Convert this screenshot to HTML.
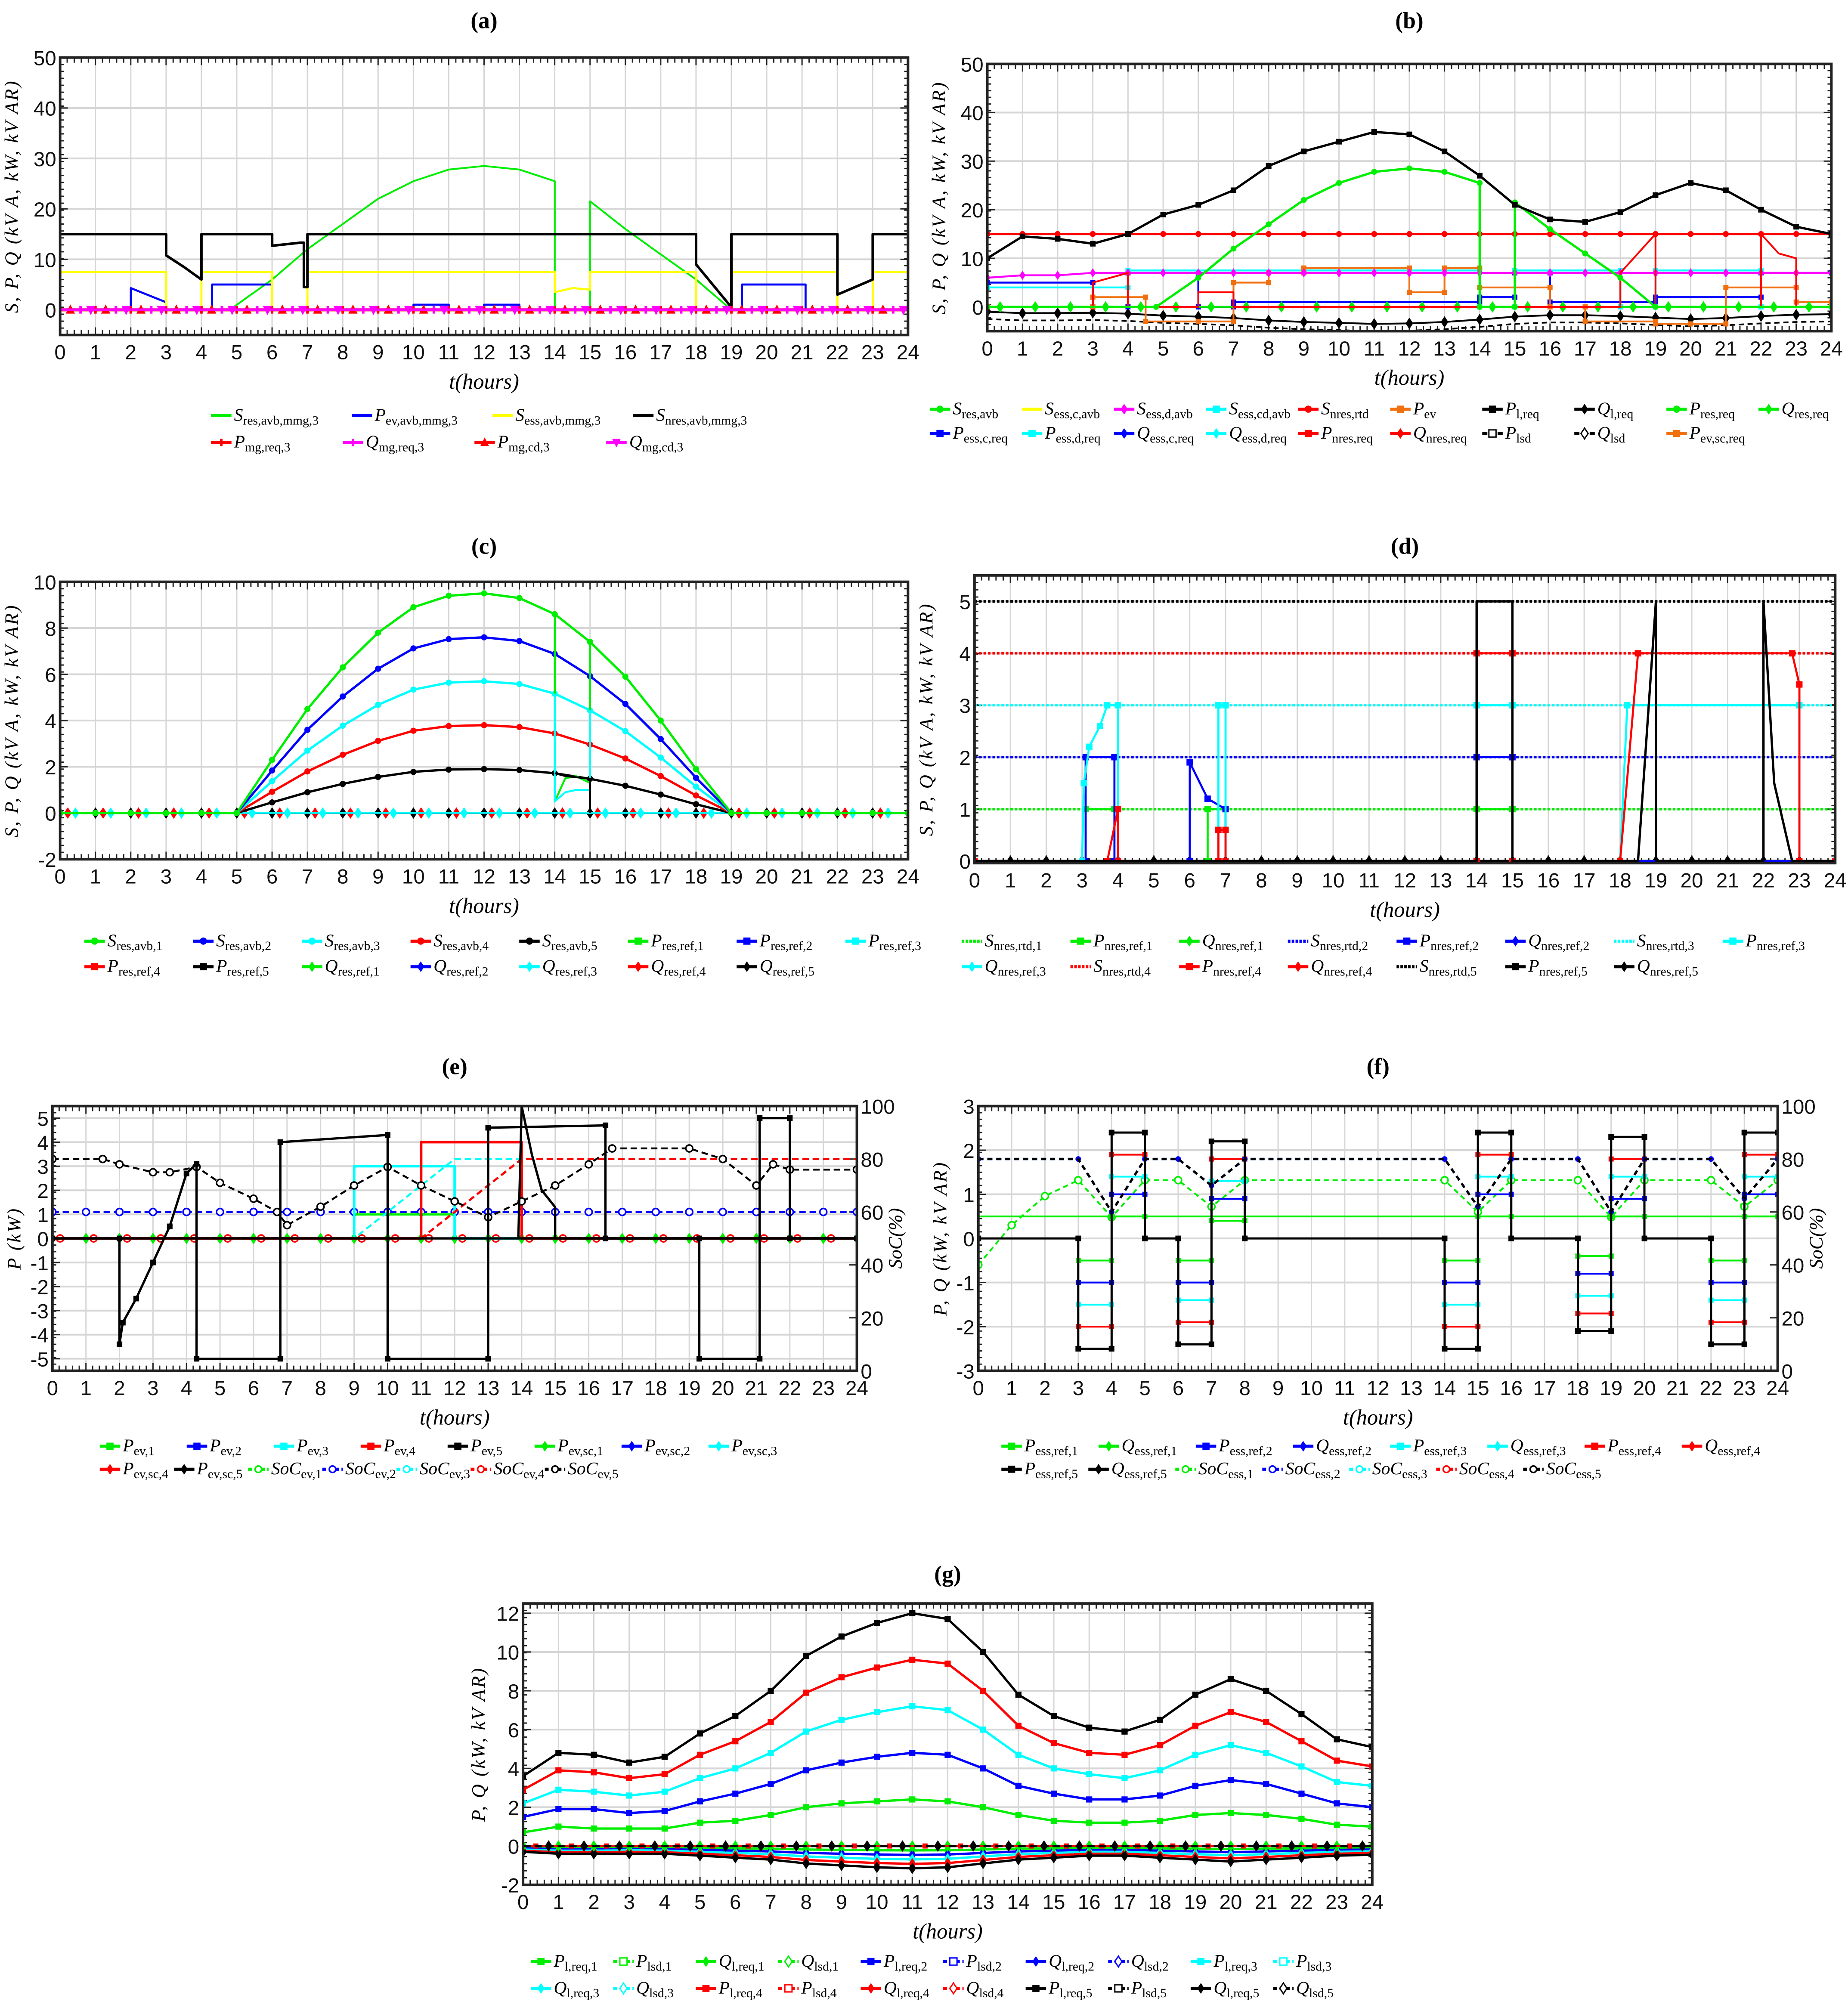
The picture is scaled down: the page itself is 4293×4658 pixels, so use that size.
<!DOCTYPE html>
<html><head><meta charset="utf-8"><style>
html,body{margin:0;padding:0;background:#fff;}
svg{display:block;}
text{font-family:"Liberation Sans",sans-serif;}
.tk{font-size:16px;fill:#111;}
.ser{font-family:"Liberation Serif",serif;}
</style></head><body>
<svg id="fig" xmlns="http://www.w3.org/2000/svg" width="4293" height="4658" viewBox="0 0 1445 1568" preserveAspectRatio="none"></svg>
<script>
// ---------- DATA ----------
const HT=[0,1,2,3,4,5,6,7,8,9,10,11,12,13,14,15,16,17,18,19,20,21,22,23,24];
const ZV=[0,0,0,0,0,0,0,0,0,0,0,0,0,0,0,0,0,0,0,0,0,0,0,0,0];
// (a)
const aBlackT=[0,3,3,3.5,4,4,6,6,6.8,6.9,6.9,7,7,18,18,19,19,22,22,23,23,24];
const aBlackV=[15,15,10.8,8.5,6,15,15,12.7,13.3,13.3,4.5,4.5,15,15,9,0.5,15,15,3,6,15,15];
const aYelT=[0,3,3,4,4,6,6,7,7,14,14,14.5,15,15,18,18,19,19,22,22,23,23,24];
const aYelV=[7.5,7.5,0,0,7.5,7.5,0,0,7.5,7.5,3.5,4.3,4,7.5,7.5,0,0,7.5,7.5,0,0,7.5,7.5];
const aGrnT=[0,4.8,6,7,8,9,10,11,12,13,14,14,15,15,16,17,18,19,24];
const aGrnV=[0,0,6,12,17,22,25.5,27.8,28.5,27.8,25.5,0,0,21.5,16,11,6,0,0];
const aBluT=[0,2,2,3,3,4.3,4.3,6,6,10,10,11,11,12,12,13,13,19.3,19.3,21.1,21.1,24];
const aBluV=[0,0,4.3,1.5,0,0,5,5,0,0,1,1,0,0,1,1,0,0,5,5,0,0];
// (b)
const bLoadV=[10,14.5,14,13,15,19,21,24,29,32,34,36,35.5,32,27,21,18,17.5,19.5,23,25.5,24,20,16.5,15];
const bResT=[0,4.8,6,7,8,9,10,11,12,13,14,14,15,15,16,17,18,19,24];
const bResV=[0,0,6,12,17,22,25.5,27.8,28.5,27.8,25.5,0,0,21.5,16,11,6,0,0];
const bRtdV=[15,15,15,15,15,15,15,15,15,15,15,15,15,15,15,15,15,15,15,15,15,15,15,15,15];
const bMagV=[6,6.5,6.5,7,7,7,7,7,7,7,7,7,7,7,7,7,7,7,7,7,7,7,7,7,7];
const bCyT=[0,4,4,14,14,15,15,18,18,19,19,22,22,24];
const bCyV=[4,4,7.5,7.5,0,0,7.5,7.5,0,0,7.5,7.5,0,0];
const bBluT=[0,3,3,4,4,6,6,7,7,14,14,15,15,16,16,19,19,22,22,24];
const bBluV=[5,5,0,0,7,7,0,0,1,1,2,2,7,7,1,1,2,2,7,7];
const bOrT=[0,3,3,4.5,4.5,6,6,7,7,8,8,9,9,12,12,13,13,14,14,16,16,17,17,19,19,20,20,21,21,23,23,24];
const bOrV=[0,0,2,2,-3,-3,-3,-3,5,5,7,7,8,8,3,3,8,8,4,4,0,0,-3,-3,-3.5,-3.5,-3.5,-3.5,4,4,1,1];
const bRedT=[0,3,3,4,4,6,6,7,7,18,18,19,19,22,22,22.5,23,23,24];
const bRedV=[0,0,5,7,0,0,3,3,0,0,7,15,0,0,15,11,10,0,0];
const bQlV=[-1,-1.3,-1.3,-1.2,-1.4,-1.8,-2,-2.3,-2.8,-3.1,-3.3,-3.5,-3.4,-3.1,-2.6,-2,-1.7,-1.7,-1.9,-2.2,-2.5,-2.3,-1.9,-1.6,-1.5];
const bLsdV=[-2.5,-2.8,-2.8,-2.7,-2.9,-3.3,-3.5,-3.8,-4.3,-4.6,-4.8,-5,-4.9,-4.6,-4.1,-3.5,-3.2,-3.2,-3.4,-3.7,-4,-3.8,-3.4,-3.1,-3];
// (c)
const cV1=[0,0,0,0,0,0,2.3,4.5,6.3,7.8,8.9,9.4,9.5,9.3,8.6,7.4,5.9,4,1.9,0,0,0,0,0,0];
const cV2=[0,0,0,0,0,0,1.84,3.6,5.04,6.24,7.12,7.52,7.6,7.44,6.88,5.92,4.72,3.2,1.52,0,0,0,0,0,0];
const cV3=[0,0,0,0,0,0,1.38,2.7,3.78,4.68,5.34,5.64,5.7,5.58,5.16,4.44,3.54,2.4,1.14,0,0,0,0,0,0];
const cV4=[0,0,0,0,0,0,0.92,1.8,2.52,3.12,3.56,3.76,3.8,3.72,3.44,2.96,2.36,1.6,0.76,0,0,0,0,0,0];
const cV5=[0,0,0,0,0,0,0.46,0.9,1.26,1.56,1.78,1.88,1.9,1.86,1.72,1.48,1.18,0.8,0.38,0,0,0,0,0,0];
const cDropT=[14,14,14.3,14.6,15,15];
const cDropG=[8.6,0.5,1.5,1.6,1.3,7.4];
const cDropC=[5.16,0.5,0.9,1.0,1.0,4.44];
const cDropK=[1.72,1.72,1.6,1.55,1.48,0];
// (d)
const dRtd=[[0,24],[1,1],[2,2],[3,3],[4,4],[5,5]];
const dCyT=[0,3,3.05,3.2,3.5,3.7,4,4,6.8,6.8,7,7,14,14,15,15,18,18.2,23,23,24];
const dCyV=[0,0,1.5,2.2,2.6,3,3,0,0,3,3,0,0,3,3,0,0,3,3,0,0];
const dBkT=[0,14,14,15,15,18.5,19,19,22,22,22.3,22.8,24];
const dBkV=[0,0,5,5,0,0,5,0,0,5,1.5,0,0];
const dRdT=[0,3.7,4,4,6.8,6.8,7,7,14,14,15,15,18,18.5,22.8,23,23,24];
const dRdV=[0,0,1,0,0,0.6,0.6,0,0,4,4,0,0,4,4,3.4,0,0];
const dBlT=[0,3.1,3.1,3.9,3.9,6,6,6.5,7,7,14,14,15,15,24];
const dBlV=[0,0,2,2,0,0,1.9,1.2,1.0,0,0,2,2,0,0];
const dGrT=[0,3.1,3.1,3.9,3.9,6.5,6.5,7,7,14,14,15,15,24];
const dGrV=[0,0,1,1,0,0,1,1,0,0,1,1,0,0];
// (e)
const eBkT=[0,2,2,2.1,2.5,3,3.5,4,4.3,4.3,6.8,6.8,10,10,13,13,16.5,16.5,19.3,19.3,21.1,21.1,22,22,24];
const eBkV=[0,0,-4.4,-3.5,-2.5,-1,0.5,2.7,3.1,-5,-5,4,4.3,-5,-5,4.6,4.7,0,0,-5,-5,5,5,0,0];
const eScT=[13.9,14,14.3,14.6,15,15,24];
const eScV=[0,5.5,3.5,2,1.3,0,0];
const eRdT=[0,11,11,14,14,24];const eRdV=[0,0,4,4,0,0];
const eCyT=[0,9,9,12,12,24];const eCyV=[0,0,3,3,0,0];
const eGrT=[0,9,9,12,12,24];const eGrV=[0,0,1,1,0,0];
const eSoc5T=[0,1.5,2,3,3.5,4.3,5,6,6.7,7,8,9,10,11,12,13,14,15,16,16.7,19,20,21,21.5,22,24];
const eSoc5V=[80,80,78,75,75,77,71,65,60,55,62,70,77,70,64,58,64,70,78,84,84,80,70,78,76,76];
const eSoc2V=[60,60,60,60,60,60,60,60,60,60,60,60,60,60,60,60,60,60,60,60,60,60,60,60,60];
const eSoc1T=[0,9,12,24];const eSoc1V=[50,50,80,80];
const eSoc4T=[0,11,14,24];const eSoc4V=[50,50,80,80];
// (f)
const fT=[0,3,3,4,4,5,5,6,6,7,7,8,8,14,14,15,15,16,16,18,18,19,19,20,20,22,22,23,23,24];
const fV5=[0,0,-2.5,-2.5,2.4,2.4,0,0,-2.4,-2.4,2.2,2.2,0,0,-2.5,-2.5,2.4,2.4,0,0,-2.1,-2.1,2.3,2.3,0,0,-2.4,-2.4,2.4,2.4];
const fV4=[0,0,-2,-2,1.9,1.9,0,0,-1.9,-1.9,1.8,1.8,0,0,-2,-2,1.9,1.9,0,0,-1.7,-1.7,1.8,1.8,0,0,-1.9,-1.9,1.9,1.9];
const fV3=[0,0,-1.5,-1.5,1.4,1.4,0,0,-1.4,-1.4,1.3,1.3,0,0,-1.5,-1.5,1.4,1.4,0,0,-1.3,-1.3,1.4,1.4,0,0,-1.4,-1.4,1.4,1.4];
const fV2=[0,0,-1,-1,1,1,0,0,-1,-1,0.9,0.9,0,0,-1,-1,1,1,0,0,-0.8,-0.8,0.9,0.9,0,0,-1,-1,1,1];
const fV1=[0,0,-0.5,-0.5,0.5,0.5,0,0,-0.5,-0.5,0.4,0.4,0,0,-0.5,-0.5,0.5,0.5,0,0,-0.4,-0.4,0.5,0.5,0,0,-0.5,-0.5,0.5,0.5];
const fSocT=[0,3,4,5,6,7,8,14,15,16,18,19,20,22,23,24];
const fSoc5=[80,80,60,80,80,70,80,80,62,80,80,60,80,80,65,80];
const fSoc1T=[0,1,2,3,4,5,6,7,8,14,15,16,18,19,20,22,23,24];
const fSoc1=[40,55,66,72,58,72,72,62,72,72,60,72,72,58,72,72,62,72];
const fQ1=[0.5,0.5,0.5,0.5,0.5,0.5,0.5,0.5,0.5,0.5,0.5,0.5,0.5,0.5,0.5,0.5,0.5,0.5,0.5,0.5,0.5,0.5,0.5,0.5,0.5];
// (g)
const gP5=[3.6,4.8,4.7,4.3,4.6,5.8,6.7,8,9.8,10.8,11.5,12,11.7,10,7.8,6.7,6.1,5.9,6.5,7.8,8.6,8.0,6.8,5.5,5.1];
const gP4=[2.9,3.9,3.8,3.5,3.7,4.7,5.4,6.4,7.9,8.7,9.2,9.6,9.4,8.0,6.2,5.3,4.8,4.7,5.2,6.2,6.9,6.4,5.4,4.4,4.1];
const gP3=[2.2,2.9,2.8,2.6,2.8,3.5,4.0,4.8,5.9,6.5,6.9,7.2,7.0,6.0,4.7,4.0,3.7,3.5,3.9,4.7,5.2,4.8,4.1,3.3,3.1];
const gP2=[1.5,1.9,1.9,1.7,1.8,2.3,2.7,3.2,3.9,4.3,4.6,4.8,4.7,4.0,3.1,2.7,2.4,2.4,2.6,3.1,3.4,3.2,2.7,2.2,2.0];
const gP1=[0.7,1.0,0.9,0.9,0.9,1.2,1.3,1.6,2.0,2.2,2.3,2.4,2.3,2.0,1.6,1.3,1.2,1.2,1.3,1.6,1.7,1.6,1.4,1.1,1.0];
const gQ5=[-0.3,-0.4,-0.4,-0.4,-0.4,-0.5,-0.6,-0.7,-0.9,-1.0,-1.1,-1.15,-1.1,-0.9,-0.7,-0.6,-0.5,-0.5,-0.6,-0.7,-0.8,-0.7,-0.6,-0.5,-0.45];
const gQ4=[-0.25,-0.32,-0.32,-0.3,-0.32,-0.4,-0.48,-0.56,-0.72,-0.8,-0.88,-0.92,-0.88,-0.72,-0.56,-0.48,-0.4,-0.4,-0.48,-0.56,-0.64,-0.56,-0.48,-0.4,-0.36];
const gQ3=[-0.18,-0.24,-0.24,-0.22,-0.24,-0.3,-0.36,-0.42,-0.54,-0.6,-0.66,-0.69,-0.66,-0.54,-0.42,-0.36,-0.3,-0.3,-0.36,-0.42,-0.48,-0.42,-0.36,-0.3,-0.27];
const gQ2=[-0.12,-0.16,-0.16,-0.15,-0.16,-0.2,-0.24,-0.28,-0.36,-0.4,-0.44,-0.46,-0.44,-0.36,-0.28,-0.24,-0.2,-0.2,-0.24,-0.28,-0.32,-0.28,-0.24,-0.2,-0.18];
const gQ1=[-0.06,-0.08,-0.08,-0.08,-0.08,-0.1,-0.12,-0.14,-0.18,-0.2,-0.22,-0.23,-0.22,-0.18,-0.14,-0.12,-0.1,-0.1,-0.12,-0.14,-0.16,-0.14,-0.12,-0.1,-0.09];
// tick labels
const xTicks=[0,1,2,3,4,5,6,7,8,9,10,11,12,13,14,15,16,17,18,19,20,21,22,23,24];
const aTicks=[0,10,20,30,40,50];
const cTicks=[-2,0,2,4,6,8,10];
const dTicks=[0,1,2,3,4,5];
const eTicks=[-5,-4,-3,-2,-1,0,1,2,3,4,5];
const fTicks=[-3,-2,-1,0,1,2,3];
const gTicks=[-2,0,2,4,6,8,10,12];
const socTicks=[0,20,40,60,80,100];

// ---------- DRAWING ----------
const NS='http://www.w3.org/2000/svg';
const svg=document.getElementById('fig');
function el(tag,attrs,parent){const e=document.createElementNS(NS,tag);for(const k in attrs)e.setAttribute(k,attrs[k]);(parent||svg).appendChild(e);return e;}
const G='#00ee00',B='#0000ff',C='#00ffff',R='#ff0000',K='#000000',Y='#ffff00',M='#ff00ff',O='#f07010';
function sx(p,t){return p.x0+t/24*(p.x1-p.x0);}
function sy(p,v){return p.y1-(v-p.ymin)/(p.ymax-p.ymin)*(p.y1-p.y0);}
function sr(p,v){return p.y1-(v-p.rmin)/(p.rmax-p.rmin)*(p.y1-p.y0);}

function axes(p,name,yt,ylab,rt,rlab,title){
  const g=el('g',{});
  
  
  el('rect',{x:p.x0,y:p.y0,width:p.x1-p.x0,height:p.y1-p.y0,fill:'#fff'},g);
  for(const t of xTicks){const l=el('line',{x1:sx(p,t),x2:sx(p,t),y1:p.y0,y2:p.y1,stroke:'#d6d6d6','stroke-width':1},g);
    }
  for(const v of yt){const l=el('line',{x1:p.x0,x2:p.x1,y1:sy(p,v),y2:sy(p,v),stroke:'#d6d6d6','stroke-width':1.4},g);
    }
  let d='';
  for(let i=0;i<=120;i++){const x=p.x0+i/120*(p.x1-p.x0);const L=(i%5==0)?6:4;d+=`M${x} ${p.y0}v${L}M${x} ${p.y1}v${-L}`;}
  for(const v of yt){d+=`M${p.x0} ${sy(p,v)}h6`; if(!rt) d+=`M${p.x1} ${sy(p,v)}h-6`;}
  const yr=(p.y1-p.y0);
  for(let i=0;i<=40;i++){const y=p.y0+i/40*yr;d+=`M${p.x0} ${y}h3`; if(!rt) d+=`M${p.x1} ${y}h-3`;}
  if(rt){for(const v of rt){d+=`M${p.x1} ${sr(p,v)}h-6`;}}
  el('path',{d:d,stroke:'#222','stroke-width':1,fill:'none'},g);
  for(const t of xTicks){const tx=el('text',{x:sx(p,t),y:p.y1+19,'text-anchor':'middle',class:'tk'},g);tx.textContent=t;
    }
  for(const v of yt){const tx=el('text',{x:p.x0-3,y:sy(p,v)+6,'text-anchor':'end',class:'tk'},g);tx.textContent=v;
    }
  if(rt){for(const v of rt){const tx=el('text',{x:p.x1+3,y:sr(p,v)+6,'text-anchor':'start',class:'tk'},g);tx.textContent=v;
    }
    const cy=(p.y0+p.y1)/2;const rl=el('text',{x:p.x1+35,y:cy,'text-anchor':'middle',class:'ser','font-style':'italic','font-size':15,transform:`rotate(-90 ${p.x1+35} ${cy})`},g);rl.textContent=rlab;
    }
  const cy=(p.y0+p.y1)/2, lx=p.x0-(p.ylx||33);
  const yl=el('text',{x:lx,y:cy,'text-anchor':'middle',class:'ser','font-style':'italic','font-size':15,'letter-spacing':1.2,transform:`rotate(-90 ${lx} ${cy})`},g);yl.textContent=ylab;
  
  const xl=el('text',{x:(p.x0+p.x1)/2,y:p.y1+42,'text-anchor':'middle',class:'ser','font-style':'italic','font-size':17},g);xl.textContent='t(hours)';
  
  const tt=el('text',{x:(p.x0+p.x1)/2,y:p.ty,'text-anchor':'middle',class:'ser','font-weight':'bold','font-size':18},g);tt.textContent=title;
  
  const clip=el('clipPath',{id:'clip'+name});el('rect',{x:p.x0,y:p.y0,width:p.x1-p.x0,height:p.y1-p.y0},clip);
  p.clip='url(#clip'+name+')';
}
function frame(p){const f=el('rect',{x:p.x0,y:p.y0,width:p.x1-p.x0,height:p.y1-p.y0,fill:'none',stroke:'#222','stroke-width':2});
  }
function marker(g,x,y,m,color,s){
  s=s||3;let e;
  if(m==='s') e=el('rect',{x:x-s,y:y-s,width:2*s,height:2*s,fill:color},g);
  else if(m==='o') e=el('circle',{cx:x,cy:y,r:s*0.9,fill:'#fff',stroke:color,'stroke-width':1.2},g);
  else if(m==='of') e=el('circle',{cx:x,cy:y,r:s,fill:color},g);
  else if(m==='d') e=el('path',{d:`M${x} ${y-s*1.5}L${x+s} ${y}L${x} ${y+s*1.5}L${x-s} ${y}Z`,fill:color},g);
  else if(m==='dw') e=el('path',{d:`M${x} ${y-s*1.5}L${x+s} ${y}L${x} ${y+s*1.5}L${x-s} ${y}Z`,fill:'#fff',stroke:color,'stroke-width':1},g);
  else if(m==='+') e=el('path',{d:`M${x-s} ${y}h${2*s}M${x} ${y-s}v${2*s}`,stroke:color,'stroke-width':2},g);
  else if(m==='^') e=el('path',{d:`M${x} ${y-s*1.4}L${x+s*1.2} ${y+s}L${x-s*1.2} ${y+s}Z`,fill:color},g);
  else if(m==='v') e=el('path',{d:`M${x} ${y+s*1.4}L${x+s*1.2} ${y-s}L${x-s*1.2} ${y-s}Z`,fill:color},g);
  else if(m==='sw') e=el('rect',{x:x-s,y:y-s,width:2*s,height:2*s,fill:'#fff',stroke:color,'stroke-width':1},g);

}
function series(p,name,ts,vs,color,o){
  o=o||{};
  const g=el('g',{'clip-path':p.clip});
  
  
  const f=o.right?sr:sy;
  const pts=ts.map((t,i)=>sx(p,t).toFixed(1)+','+f(p,vs[i]).toFixed(1)).join(' ');
  const a={points:pts,fill:'none',stroke:color,'stroke-width':o.w||2,'stroke-linejoin':'round'};
  if(o.dash) a['stroke-dasharray']=o.dash;
  el('polyline',a,g);
  if(o.m){ts.forEach((t,i)=>{if(o.ev&&i%o.ev) return;marker(g,sx(p,t)+(o.off||0),f(p,vs[i]),o.m,color,o.ms);});}
}
function legendItem(x,y,color,dash,m,main,sub,name){
  const g=el('g',{});
  
  
  const a={x1:x,x2:x+16,y1:y-4,y2:y-4,stroke:color,'stroke-width':2.4};
  if(dash) a['stroke-dasharray']=dash;
  el('line',a,g);
  if(m) marker(g,x+8,y-4,m,color,2.8);
  const t=el('text',{x:x+18,y:y,class:'ser','font-style':'italic','font-size':14},t0=g);
  t.textContent=main;
  const s=el('tspan',{dy:3,'font-style':'normal','font-size':10},t);
  s.textContent=sub;
}
function legendRow(x,y,dx,items,pre){
  items.forEach((it,i)=>legendItem(x+i*dx,y,it[0],it[1],it[2],it[3],it[4],pre+'-legend-'+i));
}
const YL='S, P, Q (kV A, kW, kV AR)';

// ----- (a)
const pA={x0:47,x1:710,y0:45,y1:262,ymin:-5,ymax:50,ty:22};
axes(pA,'a',aTicks,YL,null,null,'(a)');
series(pA,'s-res-avb-line',aGrnT,aGrnV,G,{w:1.4});
series(pA,'p-ev-avb-line',aBluT,aBluV,B,{w:1.6});
series(pA,'s-ess-avb-line',aYelT,aYelV,Y,{w:1.6});
series(pA,'s-nres-avb-line',aBlackT,aBlackV,K,{w:2});
series(pA,'p-mg-req-line',HT,ZV,R,{m:'+',w:2.4});
series(pA,'p-mg-cd-line',HT,ZV,R,{m:'^',off:8});
series(pA,'q-mg-req-line',HT,ZV,M,{m:'+',off:16});
series(pA,'q-mg-cd-line',HT,ZV,M,{m:'v',off:24,w:2.2});
frame(pA);
legendRow(165,329,110,[[G,'',null,'S','res,avb,mmg,3'],[B,'',null,'P','ev,avb,mmg,3'],[Y,'',null,'S','ess,avb,mmg,3'],[K,'',null,'S','nres,avb,mmg,3']],'a1');
legendRow(165,350,103,[[R,'','+','P','mg,req,3'],[M,'','+','Q','mg,req,3'],[R,'','^','P','mg,cd,3'],[M,'','v','Q','mg,cd,3']],'a2');

// ----- (b)
const pB={x0:772,x1:1432,y0:50,y1:259,ymin:-5,ymax:50,ty:22};
axes(pB,'b',aTicks,YL,null,null,'(b)');
series(pB,'q-l-req-line',HT,bQlV,K,{m:'d',w:1.4});
series(pB,'p-lsd-line',HT,bLsdV,K,{dash:'4 3',w:1.3});
series(pB,'p-ess-c-req-line',bBluT,bBluV,B,{m:'s',ms:2,w:1.5});
series(pB,'s-ess-cd-avb-line',bCyT,bCyV,C,{m:'s',ms:2,w:1.5});
series(pB,'p-ev-line',bOrT,bOrV,O,{m:'s',ms:2,w:1.4});
series(pB,'s-ess-d-avb-line',HT,bMagV,M,{m:'d',ms:2.4,w:1.5});
series(pB,'q-res-req-line',HT,ZV,G,{m:'d',off:10,w:1.3});
series(pB,'p-nres-req-line',bRedT,bRedV,R,{w:1.4});
series(pB,'s-nres-rtd-line',HT,bRtdV,R,{m:'of',ms:2.3,w:1.8});
series(pB,'p-res-req-line',bResT,bResV,G,{m:'of',ms:2.3,w:1.8});
series(pB,'p-l-req-line',HT,bLoadV,K,{m:'s',ms:2.2,w:1.8});
frame(pB);
legendRow(727,324,72,[[G,'','of','S','res,avb'],[Y,'',null,'S','ess,c,avb'],[M,'','d','S','ess,d,avb'],[C,'','s','S','ess,cd,avb'],[R,'','of','S','nres,rtd'],[O,'','s','P','ev'],[K,'','s','P','l,req'],[K,'','d','Q','l,req'],[G,'','of','P','res,req'],[G,'','d','Q','res,req']],'b1');
legendRow(727,343,72,[[B,'','s','P','ess,c,req'],[C,'','s','P','ess,d,req'],[B,'','d','Q','ess,c,req'],[C,'','d','Q','ess,d,req'],[R,'','s','P','nres,req'],[R,'','d','Q','nres,req'],[K,'4 2','sw','P','lsd'],[K,'4 2','dw','Q','lsd'],[O,'','s','P','ev,sc,req']],'b2');

// ----- (c)
const pC={x0:47,x1:710,y0:455,y1:672,ymin:-2,ymax:10,ty:433};
axes(pC,'c',cTicks,YL,null,null,'(c)');
series(pC,'q-res-ref-line',HT,ZV,K,{m:'d',w:1.6});
series(pC,'q-res-ref-4-line',HT,ZV,R,{m:'d',off:6,w:1.3});
series(pC,'q-res-ref-3-line',HT,ZV,C,{m:'d',off:12,w:1.3});
series(pC,'s-res-avb-5-line',HT,cV5,K,{m:'of',ms:2.4,w:1.8});
series(pC,'s-res-avb-4-line',HT,cV4,R,{m:'of',ms:2.4,w:1.8});
series(pC,'s-res-avb-3-line',HT,cV3,C,{m:'of',ms:2.4,w:1.8});
series(pC,'s-res-avb-2-line',HT,cV2,B,{m:'of',ms:2.4,w:1.8});
series(pC,'s-res-avb-1-line',HT,cV1,G,{m:'of',ms:2.4,w:1.8});
series(pC,'p-res-ref-1-drop',cDropT,cDropG,G,{w:1.5});
series(pC,'p-res-ref-3-drop',cDropT,cDropC,C,{w:1.5});
series(pC,'p-res-ref-5-drop',cDropT,cDropK,K,{w:1.5});
frame(pC);
legendRow(66,740,85,[[G,'','of','S','res,avb,1'],[B,'','of','S','res,avb,2'],[C,'','of','S','res,avb,3'],[R,'','of','S','res,avb,4'],[K,'','of','S','res,avb,5'],[G,'','s','P','res,ref,1'],[B,'','s','P','res,ref,2'],[C,'','s','P','res,ref,3']],'c1');
legendRow(66,760,85,[[R,'','s','P','res,ref,4'],[K,'','s','P','res,ref,5'],[G,'','d','Q','res,ref,1'],[B,'','d','Q','res,ref,2'],[C,'','d','Q','res,ref,3'],[R,'','d','Q','res,ref,4'],[K,'','d','Q','res,ref,5']],'c2');

// ----- (d)
const pD={x0:762,x1:1435,y0:450,y1:675,ymin:-0.04,ymax:5.5,ty:433};
axes(pD,'d',dTicks,YL,null,null,'(d)');
const dCols=[G,B,C,R,K];
for(let i=0;i<5;i++){series(pD,'s-nres-rtd-'+(i+1)+'-line',dRtd[0],[dRtd[i+1][0],dRtd[i+1][1]],dCols[i],{dash:'2 1.5',w:2});}
series(pD,'q-nres-ref-line',HT,ZV,K,{m:'d',w:2});
series(pD,'p-nres-ref-1-line',dGrT,dGrV,G,{m:'s',ms:2.5,w:1.6});
series(pD,'p-nres-ref-2-line',dBlT,dBlV,B,{m:'s',ms:2.5,w:1.6});
series(pD,'p-nres-ref-3-line',dCyT,dCyV,C,{m:'s',ms:2.5,w:1.6});
series(pD,'p-nres-ref-4-line',dRdT,dRdV,R,{m:'s',ms:2.5,w:1.6});
series(pD,'p-nres-ref-5-line',dBkT,dBkV,K,{w:1.8});
frame(pD);
legendRow(752,740,85,[[G,'2 1',null,'S','nres,rtd,1'],[G,'','s','P','nres,ref,1'],[G,'','d','Q','nres,ref,1'],[B,'2 1',null,'S','nres,rtd,2'],[B,'','s','P','nres,ref,2'],[B,'','d','Q','nres,ref,2'],[C,'2 1',null,'S','nres,rtd,3'],[C,'','s','P','nres,ref,3']],'d1');
legendRow(752,760,85,[[C,'','d','Q','nres,ref,3'],[R,'2 1',null,'S','nres,rtd,4'],[R,'','s','P','nres,ref,4'],[R,'','d','Q','nres,ref,4'],[K,'2 1',null,'S','nres,rtd,5'],[K,'','s','P','nres,ref,5'],[K,'','d','Q','nres,ref,5']],'d2');

// ----- (e)
const pE={x0:41,x1:670,y0:865,y1:1072,ymin:-5.5,ymax:5.5,rmin:0,rmax:100,ty:840,ylx:25};
axes(pE,'e',eTicks,'P  (kW)',socTicks,'SoC(%)','(e)');
series(pE,'p-ev-sc-line',HT,ZV,G,{m:'d',w:1.3});
series(pE,'soc-ev-2-line',HT,eSoc2V,B,{right:1,m:'o',dash:'5 3',w:1.6});
series(pE,'p-ev-2-line',HT,ZV,R,{m:'o',off:6,w:1.3});
series(pE,'p-ev-1-line',eGrT,eGrV,G,{w:1.8});
series(pE,'p-ev-3-line',eCyT,eCyV,C,{w:2});
series(pE,'p-ev-4-line',eRdT,eRdV,R,{w:2});
series(pE,'soc-ev-1-line',eSoc1T,eSoc1V,G,{right:1,dash:'5 3',w:1.5});
series(pE,'soc-ev-3-line',eSoc1T,eSoc1V,C,{right:1,dash:'5 3',w:1.5});
series(pE,'soc-ev-4-line',eSoc4T,eSoc4V,R,{right:1,dash:'5 3',w:1.7});
series(pE,'soc-ev-5-line',eSoc5T,eSoc5V,K,{right:1,m:'o',dash:'5 3',w:1.5});
series(pE,'p-ev-5-line',eBkT,eBkV,K,{m:'s',ms:2.2,w:1.8});
series(pE,'p-ev-sc-5-line',eScT,eScV,K,{w:1.8});
series(pE,'p-ev-zero-line',HT,ZV,K,{w:1.8});
frame(pE);
legendRow(78,1135,68,[[G,'','s','P','ev,1'],[B,'','s','P','ev,2'],[C,'','s','P','ev,3'],[R,'','s','P','ev,4'],[K,'','s','P','ev,5'],[G,'','d','P','ev,sc,1'],[B,'','d','P','ev,sc,2'],[C,'','d','P','ev,sc,3']],'e1');
legendRow(78,1153,58,[[R,'','d','P','ev,sc,4'],[K,'','d','P','ev,sc,5'],[G,'3 2','o','SoC','ev,1'],[B,'3 2','o','SoC','ev,2'],[C,'3 2','o','SoC','ev,3'],[R,'3 2','o','SoC','ev,4'],[K,'3 2','o','SoC','ev,5']],'e2');

// ----- (f)
const pF={x0:765,x1:1390,y0:865,y1:1072,ymin:-3,ymax:3,rmin:0,rmax:100,ty:840,ylx:25};
axes(pF,'f',fTicks,'P, Q (kW, kV AR)',socTicks,'SoC(%)','(f)');
series(pF,'q-ess-ref-1-line',HT,fQ1,G,{w:1.4});
series(pF,'soc-ess-1-line',fSoc1T,fSoc1,G,{right:1,m:'o',dash:'4 3',w:1.4});
series(pF,'p-ess-ref-1-line',fT,fV1,G,{m:'s',ms:2,w:1.4});
series(pF,'p-ess-ref-2-line',fT,fV2,B,{m:'s',ms:2,w:1.4});
series(pF,'p-ess-ref-3-line',fT,fV3,C,{m:'s',ms:2,w:1.4});
series(pF,'p-ess-ref-4-line',fT,fV4,R,{m:'s',ms:2,w:1.4});
series(pF,'soc-ess-3-line',fSocT,fSoc5,C,{right:1,dash:'4 3',w:1.8});
series(pF,'soc-ess-2-line',fSocT,fSoc5,B,{right:1,dash:'4 3',w:1.8,m:'of',ms:2.2});
series(pF,'soc-ess-5-line',fSocT,fSoc5,K,{right:1,dash:'4 3',w:1.8});
series(pF,'p-ess-ref-5-line',fT,fV5,K,{m:'s',ms:2.2,w:1.7});
frame(pF);
legendRow(783,1135,76,[[G,'','s','P','ess,ref,1'],[G,'','d','Q','ess,ref,1'],[B,'','s','P','ess,ref,2'],[B,'','d','Q','ess,ref,2'],[C,'','s','P','ess,ref,3'],[C,'','d','Q','ess,ref,3'],[R,'','s','P','ess,ref,4'],[R,'','d','Q','ess,ref,4']],'f1');
legendRow(783,1153,68,[[K,'','s','P','ess,ref,5'],[K,'','d','Q','ess,ref,5'],[G,'3 2','o','SoC','ess,1'],[B,'3 2','o','SoC','ess,2'],[C,'3 2','o','SoC','ess,3'],[R,'3 2','o','SoC','ess,4'],[K,'3 2','o','SoC','ess,5']],'f2');

// ----- (g)
const pG={x0:409,x1:1073,y0:1254,y1:1474,ymin:-2,ymax:12.5,ty:1237,ylx:30};
axes(pG,'g',gTicks,'P, Q (kW, kV AR)',null,null,'(g)');
series(pG,'q-l-req-1-line',HT,gQ1,G,{m:'d',w:1.8});
series(pG,'q-l-req-2-line',HT,gQ2,B,{m:'d',w:1.8});
series(pG,'q-l-req-3-line',HT,gQ3,C,{m:'d',w:1.8});
series(pG,'q-l-req-4-line',HT,gQ4,R,{m:'d',w:1.8});
series(pG,'q-l-req-5-line',HT,gQ5,K,{m:'d',w:1.8});
series(pG,'lsd-zero-line',HT,ZV,G,{m:'d',w:1.8});
series(pG,'lsd-zero-line-2',HT,ZV,R,{m:'s',ms:2,off:10,w:1.5});
series(pG,'lsd-zero-line-5',HT,ZV,K,{m:'d',off:20,dash:'6 3',w:1.8});
series(pG,'p-l-req-1-line',HT,gP1,G,{m:'s',ms:2.4,w:1.8});
series(pG,'p-l-req-2-line',HT,gP2,B,{m:'s',ms:2.4,w:1.8});
series(pG,'p-l-req-3-line',HT,gP3,C,{m:'s',ms:2.4,w:1.8});
series(pG,'p-l-req-4-line',HT,gP4,R,{m:'s',ms:2.4,w:1.8});
series(pG,'p-l-req-5-line',HT,gP5,K,{m:'s',ms:2.4,w:1.8});
frame(pG);
legendRow(415,1538,64.5,[[G,'','s','P','l,req,1'],[G,'3 2','sw','P','lsd,1'],[G,'','d','Q','l,req,1'],[G,'3 2','dw','Q','lsd,1'],[B,'','s','P','l,req,2'],[B,'3 2','sw','P','lsd,2'],[B,'','d','Q','l,req,2'],[B,'3 2','dw','Q','lsd,2'],[C,'','s','P','l,req,3'],[C,'3 2','sw','P','lsd,3']],'g1');
legendRow(415,1559,64.5,[[C,'','d','Q','l,req,3'],[C,'3 2','dw','Q','lsd,3'],[R,'','s','P','l,req,4'],[R,'3 2','sw','P','lsd,4'],[R,'','d','Q','l,req,4'],[R,'3 2','dw','Q','lsd,4'],[K,'','s','P','l,req,5'],[K,'3 2','sw','P','lsd,5'],[K,'','d','Q','l,req,5'],[K,'3 2','dw','Q','lsd,5']],'g2');
</script>
</body></html>
